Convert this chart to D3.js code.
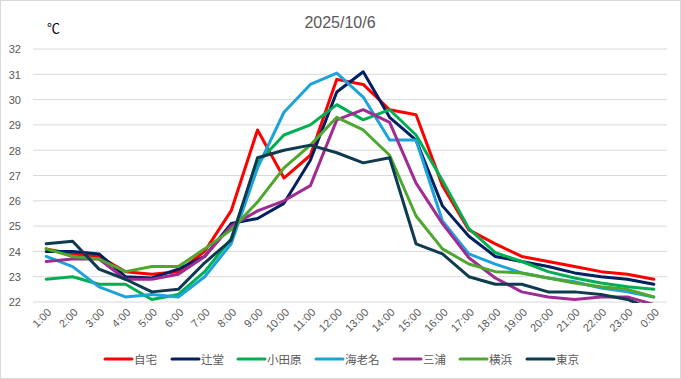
<!DOCTYPE html>
<html><head><meta charset="utf-8">
<script src="https://cdn.jsdelivr.net/npm/d3@7"></script>
<style>
html,body{margin:0;padding:0;background:#fff;}
svg{display:block;font-family:"Liberation Sans","Noto Sans CJK JP",sans-serif;}
</style></head><body>
<svg id="c" width="681" height="379"></svg>
<script>
const hours = ["1:00","2:00","3:00","4:00","5:00","6:00","7:00","8:00","9:00","10:00","11:00","12:00","13:00","14:00","15:00","16:00","17:00","18:00","19:00","20:00","21:00","22:00","23:00","0:00"];
const yTicks = [22,23,24,25,26,27,28,29,30,31,32];
const seriesNames = ["自宅","辻堂","小田原","海老名","三浦","横浜","東京"];
const seriesColors = ["#FF0000","#002060","#00B050","#1DA2DB","#A02B93","#4EA72E","#0F3B50"];
const jitaku   = [24.1,23.9,23.8,23.2,23.1,23.2,24.0,25.6,28.8,26.9,27.8,30.8,30.6,29.6,29.4,26.6,24.85,24.3,23.8,23.6,23.4,23.2,23.1,22.9];
const tsujido  = [24.0,24.0,23.9,23.0,22.95,23.3,23.8,25.1,25.3,25.9,27.6,30.3,31.1,29.3,28.4,25.8,24.6,23.8,23.6,23.4,23.15,23.0,22.9,22.7];
const odawara  = [22.9,23.0,22.7,22.7,22.1,22.3,23.2,24.5,27.5,28.6,29.0,29.8,29.2,29.6,28.6,26.8,24.9,23.95,23.6,23.2,22.95,22.75,22.6,22.5];
const ebina    = [23.8,23.4,22.6,22.2,22.3,22.2,23.0,24.3,27.3,29.5,30.6,31.05,30.1,28.4,28.4,25.2,23.9,23.5,23.15,22.95,22.8,22.55,22.4,22.2];
const miura    = [23.6,23.7,23.7,22.9,22.9,23.1,23.8,25.0,25.6,26.0,26.6,29.2,29.6,29.1,26.7,25.1,23.75,22.95,22.4,22.2,22.1,22.2,22.2,21.9];
const yokohama = [24.1,23.8,23.7,23.2,23.4,23.4,24.1,24.85,25.95,27.3,28.2,29.3,28.8,27.8,25.4,24.1,23.5,23.2,23.15,22.95,22.75,22.6,22.5,22.2];
const tokyo    = [24.3,24.4,23.3,22.9,22.4,22.5,23.55,24.45,27.7,28.0,28.2,27.9,27.5,27.7,24.3,23.9,23.0,22.7,22.7,22.4,22.4,22.3,22.1,21.7];
const seriesValues = [jitaku,tsujido,odawara,ebina,miura,yokohama,tokyo];

const svg = d3.select("#c");
const W = 681, H = 379;
const L = 33, R = 667, T = 49, B = 302;

svg.append("rect").attr("x",0.5).attr("y",0.5).attr("width",W-1).attr("height",H-1)
  .attr("fill","#fff").attr("stroke","#d9d9d9");

const x = d3.scaleBand().domain(hours).range([L,R]);
const y = d3.scaleLinear().domain([22,32]).range([B,T]);

// grid
svg.append("g").selectAll("line").data(yTicks).join("line")
  .attr("x1",L).attr("x2",R).attr("y1",d=>y(d)).attr("y2",d=>y(d))
  .attr("stroke","#d9d9d9").attr("stroke-width",1);

// y axis labels
const yAxis = d3.axisLeft(y).tickValues(yTicks).tickSize(0).tickPadding(0);
const yg = svg.append("g").attr("transform",`translate(21,0)`).call(yAxis);
yg.select(".domain").remove();
yg.selectAll("text").attr("fill","#595959").style("font-size","11px").attr("dy","0.35em");

// x axis labels
const xAxis = d3.axisBottom(x).tickSize(0);
const xg = svg.append("g").attr("transform",`translate(0,${B})`).call(xAxis);
xg.select(".domain").remove();
xg.selectAll("text").attr("fill","#595959").style("font-size","11px")
  .attr("text-anchor","end").attr("dy",null).attr("y",0)
  .attr("transform","translate(6,11) rotate(-45)");

// clip
svg.append("clipPath").attr("id","pc").append("rect")
  .attr("x",L).attr("y",T-10).attr("width",R-L).attr("height",B-T+11);

const line = d3.line().x((d,i)=>x(hours[i])+x.bandwidth()/2).y(d=>y(d));
const lg = svg.append("g").attr("clip-path","url(#pc)");
seriesValues.forEach((vals,k)=>{
  lg.append("path").attr("d",line(vals)).attr("fill","none")
    .attr("stroke",seriesColors[k]).attr("stroke-width",3)
    .attr("stroke-linejoin","round").attr("stroke-linecap","round");
});

// title
svg.append("text").attr("x",340).attr("y",28).attr("text-anchor","middle")
  .attr("fill","#595959").style("font-size","16px").text("2025/10/6");
svg.append("text").attr("x",47).attr("y",33).attr("fill","#000")
  .style("font-size","13px").text("℃");

// legend
const legX = [105,172,238,316,394,460,527];
const lgd = svg.append("g");
seriesNames.forEach((n,k)=>{
  lgd.append("line").attr("x1",legX[k]).attr("x2",legX[k]+27).attr("y1",359).attr("y2",359)
    .attr("stroke",seriesColors[k]).attr("stroke-width",3).attr("stroke-linecap","round");
  lgd.append("text").attr("x",legX[k]+29).attr("y",363.5).attr("fill","#595959")
    .style("font-size","11.5px").style("font-family","'Noto Sans CJK JP',sans-serif").text(n);
});
</script>
</body></html>
